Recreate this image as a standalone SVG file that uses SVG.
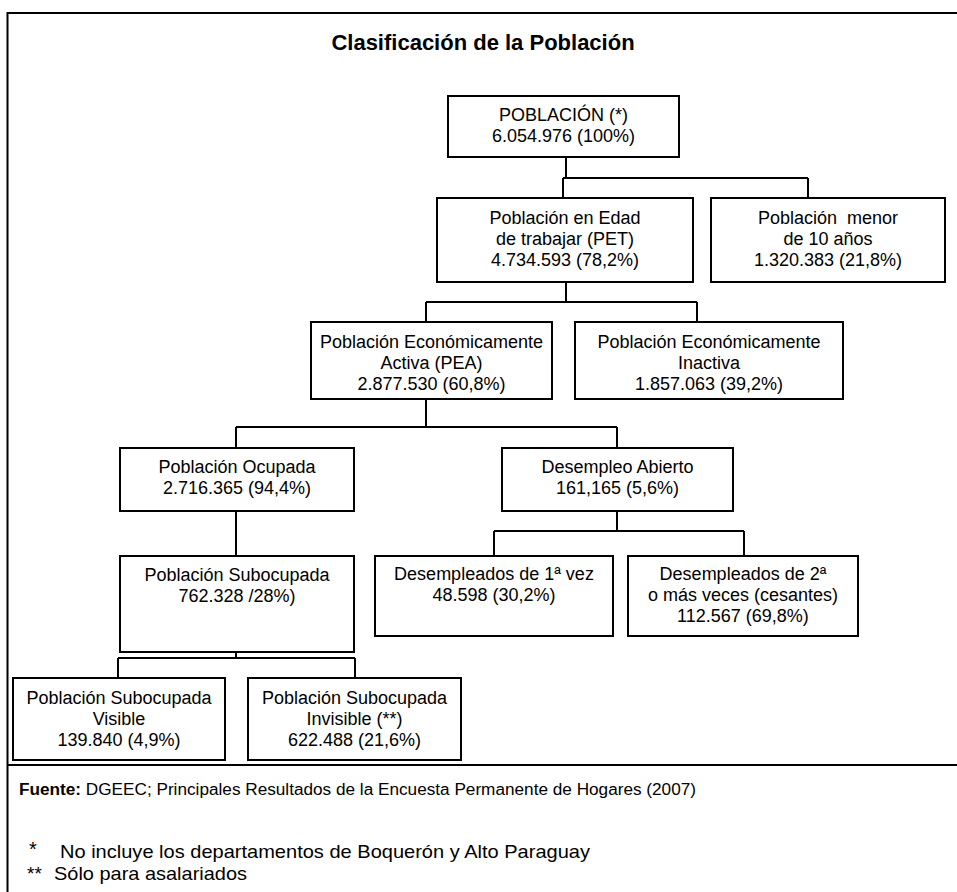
<svg xmlns="http://www.w3.org/2000/svg" width="957" height="892" viewBox="0 0 957 892">
<style>
.bx{fill:#fff;stroke:#000;stroke-width:2}
.t{font-family:"Liberation Sans",Arial,sans-serif;font-size:18px;fill:#000;text-anchor:middle}
.ln{stroke:#000;stroke-width:2;fill:none}
.ft{font-family:"Liberation Sans",Arial,sans-serif;fill:#000}
</style>
<rect x="0" y="0" width="957" height="892" fill="#fff"/>
<g id="frame">
<path class="ln" d="M957,13 H7.5 V892" stroke-width="2.5"/>
<path class="ln" d="M7.5,765 H957" stroke-width="2.5"/>
</g>
<text x="483" y="50" style="font-family:'Liberation Sans',Arial,sans-serif;font-size:22px;font-weight:bold;text-anchor:middle">Clasificación de la Población</text>
<g id="connectors">
<path class="ln" d="M566,157 V178 M563,178 H808 M563,178 V198 M808,178 V198"/>
<path class="ln" d="M566,282 V302 M426,302 H697 M426,302 V322 M697,302 V322"/>
<path class="ln" d="M426,399 V427 M236,427 H617 M236,427 V448 M617,427 V448"/>
<path class="ln" d="M236,511 V556"/>
<path class="ln" d="M617,511 V531 M494,531 H744 M494,531 V556 M744,531 V556"/>
<path class="ln" d="M236,652 V658 M118,658 H355 M118,658 V678 M355,658 V678"/>
</g>
<g id="poblacion">
<rect class="bx" x="448" y="96" width="231" height="61"/>
<text class="t" x="563.5" y="121">POBLACIÓN (*)</text>
<text class="t" x="563.5" y="142">6.054.976 (100%)</text>
</g>
<g id="pet">
<rect class="bx" x="437" y="198" width="256" height="84"/>
<text class="t" x="565" y="224">Población en Edad</text>
<text class="t" x="565" y="245">de trabajar (PET)</text>
<text class="t" x="565" y="266">4.734.593 (78,2%)</text>
</g>
<g id="menor">
<rect class="bx" x="711" y="198" width="234" height="84"/>
<text class="t" x="828" y="224" xml:space="preserve">Población  menor</text>
<text class="t" x="828" y="245">de 10 años</text>
<text class="t" x="828" y="266">1.320.383 (21,8%)</text>
</g>
<g id="pea">
<rect class="bx" x="311" y="322" width="241" height="77"/>
<text class="t" x="431.5" y="348">Población Económicamente</text>
<text class="t" x="431.5" y="369">Activa (PEA)</text>
<text class="t" x="431.5" y="390">2.877.530 (60,8%)</text>
</g>
<g id="inactiva">
<rect class="bx" x="575" y="322" width="268" height="77"/>
<text class="t" x="709" y="348">Población Económicamente</text>
<text class="t" x="709" y="369">Inactiva</text>
<text class="t" x="709" y="390">1.857.063 (39,2%)</text>
</g>
<g id="ocupada">
<rect class="bx" x="120" y="448" width="234" height="63"/>
<text class="t" x="237" y="473">Población Ocupada</text>
<text class="t" x="237" y="494">2.716.365 (94,4%)</text>
</g>
<g id="desempleo">
<rect class="bx" x="502" y="448" width="231" height="63"/>
<text class="t" x="617.5" y="473">Desempleo Abierto</text>
<text class="t" x="617.5" y="494">161,165 (5,6%)</text>
</g>
<g id="subocupada">
<rect class="bx" x="120" y="556" width="234" height="96"/>
<text class="t" x="237" y="581">Población Subocupada</text>
<text class="t" x="237" y="602">762.328 /28%)</text>
</g>
<g id="desemp1">
<rect class="bx" x="375" y="556" width="238" height="80"/>
<text class="t" x="494" y="580">Desempleados de 1ª vez</text>
<text class="t" x="494" y="601">48.598 (30,2%)</text>
</g>
<g id="desemp2">
<rect class="bx" x="628" y="556" width="230" height="80"/>
<text class="t" x="743" y="580">Desempleados de 2ª</text>
<text class="t" x="743" y="601">o más veces (cesantes)</text>
<text class="t" x="743" y="622">112.567 (69,8%)</text>
</g>
<g id="visible">
<rect class="bx" x="13" y="678" width="212" height="82"/>
<text class="t" x="119" y="704">Población Subocupada</text>
<text class="t" x="119" y="725">Visible</text>
<text class="t" x="119" y="746">139.840 (4,9%)</text>
</g>
<g id="invisible">
<rect class="bx" x="248" y="678" width="213" height="82"/>
<text class="t" x="354.5" y="704">Población Subocupada</text>
<text class="t" x="354.5" y="725">Invisible (**)</text>
<text class="t" x="354.5" y="746">622.488 (21,6%)</text>
</g>
<g id="notes">
<text class="ft" x="19" y="795" font-size="16" textLength="677" lengthAdjust="spacingAndGlyphs"><tspan font-weight="bold">Fuente:</tspan> DGEEC; Principales Resultados de la Encuesta Permanente de Hogares (2007)</text>
<text class="ft" x="29" y="856" font-size="20">*</text>
<text class="ft" x="60" y="858" font-size="19" textLength="530" lengthAdjust="spacingAndGlyphs">No incluye los departamentos de Boquerón y Alto Paraguay</text>
<text class="ft" x="27" y="880" font-size="19">**</text>
<text class="ft" x="54" y="880" font-size="19" textLength="193" lengthAdjust="spacingAndGlyphs">Sólo para asalariados</text>
</g>
</svg>
